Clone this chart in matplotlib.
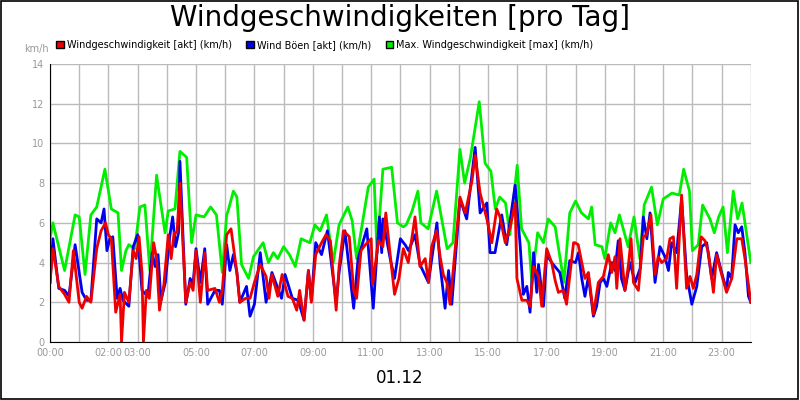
import matplotlib
matplotlib.use("Agg")
import matplotlib.pyplot as plt
from matplotlib.patches import Patch, Rectangle

# times in hours, values km/h
max_t = [0,0.1,0.5,0.86,1.0,1.2,1.4,1.6,1.88,2.1,2.33,2.45,2.6,2.7,2.9,3.08,3.25,3.42,3.65,3.94,4.05,4.28,4.45,4.68,4.85,5.0,5.28,5.5,5.7,5.9,6.05,
         6.1,6.28,6.4,6.56,6.8,6.97,7.3,7.48,7.65,7.8,8.0,8.2,8.4,8.6,8.9,9.07,9.25,9.47,9.7,9.9,10.2,10.35,10.5,10.9,11.1,11.2,11.4,11.7,11.9,12.1,
         12.2,12.4,12.6,12.7,12.95,13.24,13.6,13.8,14.04,14.2,14.4,14.7,14.9,15.1,15.25,15.4,15.6,15.75,16.0,16.15,16.4,16.5,16.7,16.9,17.06,17.3,17.6,17.8,18.0,
         18.2,18.44,18.55,18.67,18.9,19.0,19.2,19.35,19.5,19.8,20.0,20.2,20.35,20.6,20.8,21.0,21.3,21.55,21.7,21.9,22.0,22.2,22.35,22.6,22.75,22.9,23.05,23.2,23.4,23.55,23.7,24.0]
max_v = [5.2,6.0,3.6,6.4,6.3,3.4,6.4,6.8,8.7,6.7,6.5,3.6,4.6,4.9,4.7,6.8,6.9,3.6,8.4,5.5,6.6,6.7,9.6,9.3,5.0,6.4,6.3,6.8,6.4,3.5,6.4,
         6.6,7.6,7.3,3.9,3.2,4.3,5.0,4.0,4.5,4.2,4.8,4.4,3.8,5.2,5.0,5.9,5.6,6.4,4.0,5.9,6.8,6.1,4.2,7.8,8.2,4.5,8.7,8.8,6.0,5.8,
         5.9,6.6,7.6,6.0,5.7,7.6,4.7,5.0,9.7,8.0,9.3,12.1,9.0,8.6,6.7,7.3,7.0,5.4,8.9,5.7,5.0,3.0,5.5,5.0,6.2,5.8,3.0,6.5,7.1,
         6.5,6.2,6.8,4.9,4.8,4.2,6.0,5.5,6.4,4.8,6.3,4.2,6.9,7.8,5.9,7.2,7.5,7.4,8.7,7.6,4.6,4.9,6.9,6.2,5.5,6.3,6.8,4.5,7.6,6.2,7.0,4.0]

boe_t = [0,0.1,0.3,0.5,0.65,0.86,1.1,1.25,1.4,1.6,1.75,1.85,1.95,2.05,2.15,2.3,2.4,2.5,2.7,2.85,3.0,3.15,3.35,3.5,3.6,3.7,3.8,3.95,4.1,4.2,4.3,4.4,4.45,4.65,4.8,4.9,5.0,5.15,5.3,5.4,5.65,5.8,5.9,6.05,
         6.16,6.28,6.4,6.5,6.73,6.85,7.0,7.2,7.4,7.6,7.93,8.05,8.3,8.5,8.7,8.85,8.95,9.1,9.3,9.5,9.8,9.9,10.1,10.3,10.4,10.55,10.85,11.07,11.28,11.36,11.4,11.65,11.8,12.0,
         12.16,12.28,12.5,12.67,12.96,13.25,13.36,13.53,13.65,13.76,14.04,14.27,14.56,14.73,14.96,15.07,15.24,15.47,15.64,15.93,16.1,16.21,16.33,16.44,16.56,16.67,16.73,16.9,17.01,17.18,17.46,17.63,17.8,18.0,
         18.1,18.21,18.32,18.44,18.61,18.72,18.84,18.95,19.07,19.24,19.35,19.46,19.57,19.69,19.86,20.04,20.21,20.32,20.44,20.55,20.72,20.89,21.06,21.18,21.29,21.46,21.63,21.8,21.98,22.15,22.32,22.49,22.66,22.83,23.0,23.17,23.23,23.34,23.46,23.57,23.69,23.8,23.92,24.0]
boe_v = [3.0,5.2,2.7,2.6,2.3,4.9,2.5,2.1,2.1,6.2,6.0,6.7,4.6,5.2,5.3,2.2,2.7,2.1,1.8,4.8,5.4,2.6,2.3,4.5,3.8,4.4,2.1,3.0,5.3,6.3,4.8,5.5,9.1,1.9,3.2,2.9,4.7,3.0,4.7,1.9,2.6,2.6,1.9,4.9,
         3.6,4.4,3.5,2.0,2.8,1.3,1.9,4.5,2.0,3.5,2.2,3.4,2.2,2.1,1.1,3.6,2.1,5.0,4.4,5.6,2.0,3.5,5.6,3.0,1.7,4.2,5.7,1.7,6.3,4.5,6.2,4.2,3.2,5.2,
         4.9,4.6,5.4,3.9,3.0,6.0,3.9,1.7,3.6,1.9,7.2,6.2,9.8,6.5,7.0,4.5,4.5,6.4,4.9,7.9,4.9,2.4,2.8,1.5,4.5,2.5,3.9,1.8,4.4,4.0,3.5,2.2,4.1,4.0,
         4.5,3.2,2.3,3.3,1.3,1.8,3.0,3.2,2.8,4.0,3.6,5.1,3.2,2.6,4.0,3.0,3.7,6.3,5.2,6.5,3.0,4.8,4.3,3.6,5.0,4.5,7.2,3.4,1.9,2.8,4.8,5.0,3.2,4.5,3.5,2.6,3.5,3.2,5.9,5.5,5.8,4.5,2.3,2.0]

akt_t = [0,0.1,0.3,0.5,0.65,0.8,1.0,1.1,1.25,1.4,1.6,1.75,1.9,2.0,2.1,2.25,2.4,2.45,2.55,2.7,2.85,2.95,3.05,3.15,3.2,3.3,3.4,3.55,3.65,3.75,3.9,4.05,4.15,4.25,4.35,4.45,4.65,4.8,4.9,5.0,5.15,5.3,5.4,5.65,5.8,5.9,6.05,
         6.1,6.2,6.4,6.5,6.7,6.85,7.0,7.2,7.4,7.5,7.6,7.8,7.95,8.15,8.3,8.45,8.55,8.7,8.85,8.95,9.1,9.3,9.45,9.6,9.8,9.9,10.05,10.25,10.4,10.5,10.65,10.8,11.0,11.05,11.25,11.4,11.5,11.65,11.8,11.95,
         12.1,12.27,12.5,12.67,12.85,12.96,13.07,13.24,13.36,13.47,13.59,13.7,13.82,14.04,14.22,14.45,14.56,14.73,14.96,15.13,15.3,15.41,15.59,15.76,15.93,15.99,16.16,16.33,16.44,16.56,16.73,16.84,17.01,17.18,17.3,17.41,17.58,17.69,17.87,17.93,
         17.98,18.09,18.21,18.32,18.44,18.61,18.78,18.95,19.12,19.24,19.35,19.41,19.52,19.69,19.81,19.9,19.98,20.15,20.32,20.43,20.58,20.72,20.83,20.95,21.12,21.23,21.35,21.46,21.63,21.8,21.92,22.03,22.15,22.3,22.43,22.55,22.72,22.83,23.0,23.17,23.35,23.52,23.69,23.8,24.0]
akt_v = [3.0,4.7,2.8,2.4,2.0,4.6,2.0,1.7,2.3,2.0,4.7,5.6,6.0,5.4,5.2,1.5,2.4,0,2.5,2.0,4.6,4.2,5.3,3.5,0,2.6,2.2,5.0,4.2,1.6,2.9,5.4,4.2,5.5,5.5,8.0,2.0,3.0,2.6,4.6,2.0,4.5,2.6,2.7,2.0,2.6,5.4,
         5.5,5.7,3.5,2.0,2.2,2.2,3.0,3.9,3.3,2.2,3.4,2.3,3.4,2.3,2.2,1.6,2.6,1.1,3.6,2.0,4.4,5.0,5.4,5.1,1.6,3.8,5.6,5.3,2.6,2.2,4.6,4.9,5.2,2.9,5.1,4.8,6.5,4.4,2.4,3.2,
         4.7,4.0,6.3,3.8,4.2,3.0,4.8,5.6,4.3,3.4,3.0,1.9,3.8,7.3,6.5,8.1,9.4,7.5,6.2,5.0,6.7,6.3,5.0,5.8,7.0,3.2,2.1,2.1,1.8,3.8,3.3,1.8,4.7,4.0,3.1,2.5,2.6,1.9,4.2,5.0,
         5.0,4.9,4.0,3.2,3.5,1.4,3.0,3.3,4.4,3.5,4.3,2.7,5.2,2.6,3.9,5.2,3.0,2.6,5.3,5.4,6.4,3.4,4.3,4.0,4.2,5.2,5.3,2.7,7.4,2.7,3.3,2.7,3.4,5.3,5.1,4.5,2.5,4.4,3.4,2.5,3.2,5.2,5.2,4.2,2.0]

tick_hours = [0, 2, 3, 5, 7, 9, 11, 13, 15, 17, 19, 21, 23]
tick_labels = ["00:00", "02:00", "03:00", "05:00", "07:00", "09:00", "11:00",
               "13:00", "15:00", "17:00", "19:00", "21:00", "23:00"]

fig = plt.figure(figsize=(8, 4), dpi=100)
fig.patch.set_facecolor("white")
fig.add_artist(Rectangle((0.001, 0.002), 0.997, 0.995, transform=fig.transFigure,
                         fill=False, edgecolor="black", lw=1.2))
ax = fig.add_axes([0.0625, 0.145, 0.876, 0.695])
ax.plot(max_t, max_v, color="#00ee00", lw=2)
ax.plot(boe_t, boe_v, color="#0000ee", lw=2)
ax.plot(akt_t, akt_v, color="#ee0000", lw=2)
ax.set_xlim(0, 24)
ax.set_ylim(0, 14)
ax.set_yticks(range(0, 15, 2))
ax.set_xticks(tick_hours)
ax.set_xticklabels(tick_labels)
ax.set_xticks(range(0, 25), minor=True)
ax.grid(True, which="both", color="#bbbbbb", lw=1)
ax.set_axisbelow(True)
ax.tick_params(colors="#999999", labelsize=7, length=0, pad=4)
ax.tick_params(which="minor", length=0)
for s in ["top", "right"]:
    ax.spines[s].set_visible(False)
ax.spines["left"].set_color("black")
ax.spines["bottom"].set_color("black")

fig.text(0.5, 0.955, "Windgeschwindigkeiten [pro Tag]", ha="center", va="center", fontsize=20)
fig.text(0.5, 0.055, "01.12", ha="center", va="center", fontsize=12)
fig.text(0.046, 0.878, "km/h", ha="center", va="center", fontsize=7, color="#999999")
handles = [Patch(facecolor="#ee0000", edgecolor="black"),
           Patch(facecolor="#0000ee", edgecolor="black"),
           Patch(facecolor="#00ee00", edgecolor="black")]
labels = ["Windgeschwindigkeit [akt] (km/h)", "Wind Böen [akt] (km/h)",
          "Max. Windgeschwindigkeit [max] (km/h)"]
fig.legend(handles, labels, loc="center left", bbox_to_anchor=(0.065, 0.888), ncol=3,
           frameon=False, fontsize=7, handlelength=0.8, handleheight=0.8,
           handletextpad=0.3, columnspacing=1.5, borderaxespad=0)
fig.savefig("out.png", dpi=100)
